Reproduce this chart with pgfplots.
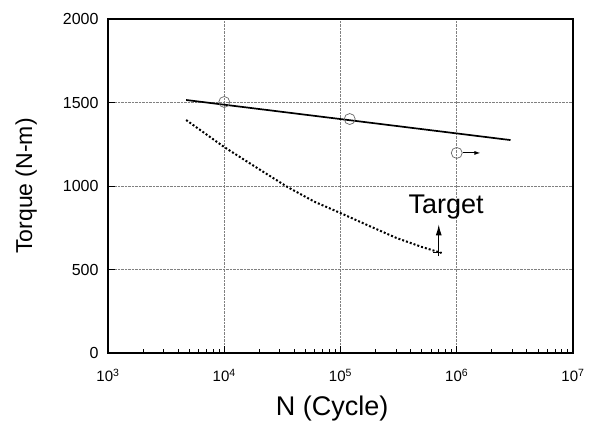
\documentclass[border=0pt]{standalone}
\usepackage{fontspec}
\setmainfont{Liberation Sans}
\usepackage{pgfplots}
\pgfplotsset{compat=1.18}
\usetikzlibrary{arrows.meta}
\begin{document}
\begin{tikzpicture}
\begin{axis}[
  scale only axis,
  width=465pt, height=334pt,
  xmode=log,
  xmin=1e3, xmax=1e7,
  ymin=0, ymax=2000,
  xtick={1e3,1e4,1e5,1e6,1e7},
  xticklabels={10\textsuperscript{3},10\textsuperscript{4},10\textsuperscript{5},10\textsuperscript{6},10\textsuperscript{7}},
  ytick={0,500,1000,1500,2000},
  yticklabels={0,500,1000,1500,2000},
  xtick pos=bottom, ytick pos=left,
  tick align=inside,
  minor x tick num=8,
  grid=major,
  major grid style={densely dotted, gray, line width=0.6pt},
  axis line style={line width=1.2pt},
  tick style={black, line width=0.6pt},
  major tick length=7pt,
  minor tick length=3.5pt,
  xticklabel style={font=\fontsize{15}{17}\selectfont, anchor=base, yshift=-29pt},
  yticklabel style={font=\fontsize{16}{18}\selectfont, xshift=-6pt},
  xlabel={N (Cycle)},
  ylabel={Torque (N-m)},
  xlabel style={font=\fontsize{27}{30}\selectfont, at={(axis description cs:0.482,-0.186)}, anchor=base},
  ylabel style={font=\fontsize{23}{26}\selectfont, at={(axis description cs:-0.176,0.5)}, anchor=center},
  clip=false,
]
\addplot[black, line width=1.7pt] coordinates {(4700,1515) (2.9e6,1275)};
\addplot[only marks, mark=o, mark size=5.5pt, black!60, mark options={line width=0.7pt}] coordinates {(1e4,1503) (1.2e5,1401) (1e6,1198)};
\addplot[black, line width=1pt, -{Latex[length=6pt,width=4pt]}] coordinates {(1.13e6,1198) (1.6e6,1198)};
\addplot[black, line width=2pt, dotted] coordinates {
 (4700,1395) (1e4,1233) (2e4,1100) (3.5e4,994) (6e4,905) (1e5,838) (1.7e5,766) (3e5,690) (5e5,635) (7.4e5,599)};
\addplot[black, line width=1pt] coordinates {(6.3e5,599) (7.4e5,599)};
\addplot[black, line width=1.1pt, -{Latex[length=11pt,width=6pt]}] coordinates {(7.0e5,580) (7.0e5,770)};
\node[font=\fontsize{27}{30}\selectfont, anchor=base] at (axis cs:8.1e5,838) {Target};
\end{axis}
\pgfresetboundingbox
\path (current axis.south west) +(-108pt,-77pt) (current axis.north east) +(30pt,19pt);
\end{tikzpicture}
\end{document}
